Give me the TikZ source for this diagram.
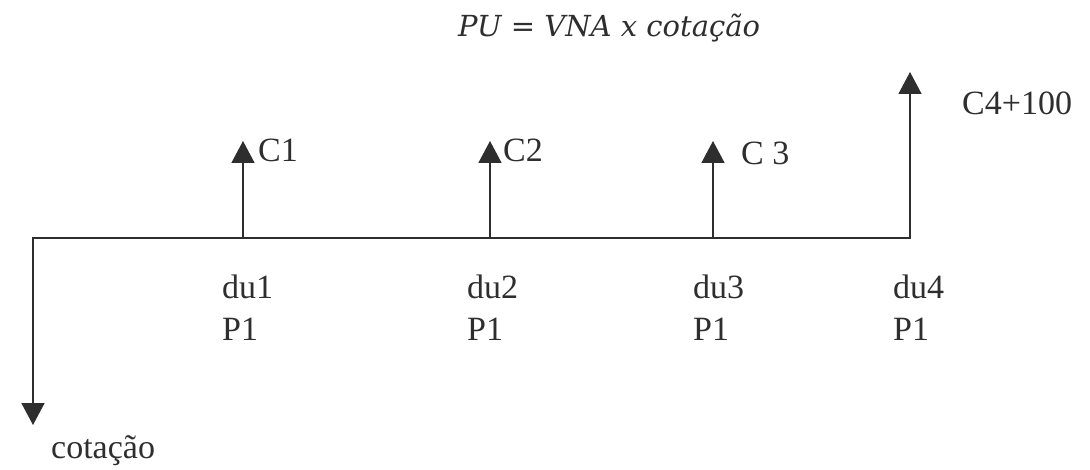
\documentclass[tikz,border=0pt]{standalone}
\usepackage{fontspec}
\setmainfont{Liberation Serif}
\newfontfamily\titlefont{DejaVu Serif}
\usetikzlibrary{arrows.meta}
\definecolor{ink}{HTML}{2E2E2E}
\tikzset{
  flow/.style={draw=ink, line width=1.6pt},
  tipped/.style={flow, -{Triangle[width=23pt,length=22pt]}},
  lbl/.style={anchor=base west, inner sep=0pt, text=ink, font=\fontsize{34}{38}\selectfont},
}
\begin{document}
\begin{tikzpicture}[x=1pt,y=-1pt]
\useasboundingbox (0,0) rectangle (1090,470);
% main line
\coordinate (o) at (33,238);
\coordinate (e) at (910,238);
\coordinate (d) at (33,425);
\coordinate (t) at (910,72);
\draw[flow, {Triangle[width=23pt,length=22pt]}-{Triangle[width=23pt,length=22pt]}] (d) -- (o) -- (e) -- (t);
% coupon arrows
\coordinate (b1) at (243,238); \coordinate (t1) at (243,141);
\coordinate (b2) at (490,238); \coordinate (t2) at (490,141);
\coordinate (b3) at (713,238); \coordinate (t3) at (713,141);
\draw[tipped] (b1) -- (t1);
\draw[tipped] (b2) -- (t2);
\draw[tipped] (b3) -- (t3);
% labels
\node[lbl] (c1) at (258,162) {C1};
\node[lbl] (c2) at (503,162) {C2};
\node[lbl] (c3) at (741,165) {C 3};
\node[lbl] (c4) at (962,115) {C4+100};
\node[lbl] (du1) at (222,299) {du1};
\node[lbl] (du2) at (467,299) {du2};
\node[lbl] (du3) at (693,299) {du3};
\node[lbl] (du4) at (893,299) {du4};
\node[lbl] (p1) at (222,341) {P1};
\node[lbl] (p2) at (467,341) {P1};
\node[lbl] (p3) at (693,341) {P1};
\node[lbl] (p4) at (893,341) {P1};
\node[lbl] (cot) at (51,458) {cotação};
\node[anchor=base west, inner sep=0pt, text=ink, font=\titlefont\itshape\fontsize{29}{33}\selectfont] (title) at (458,37) {PU = VNA x cotação};
\end{tikzpicture}
\end{document}
